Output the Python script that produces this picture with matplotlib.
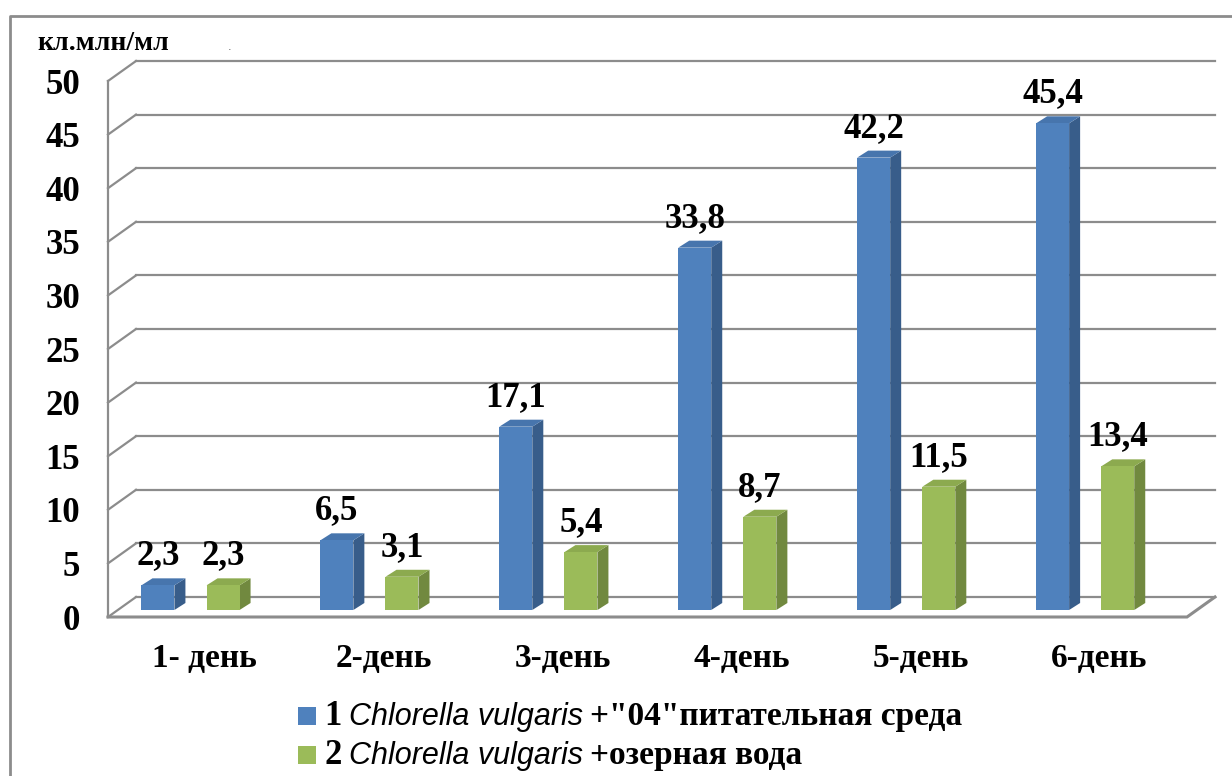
import matplotlib.pyplot as plt
from matplotlib.lines import Line2D
from matplotlib.patches import Polygon, Rectangle
from matplotlib.offsetbox import (AnchoredOffsetbox, DrawingArea, HPacker,
                                  TextArea, VPacker)

# data
days = ["1- день", "2-день", "3-день", "4-день", "5-день", "6-день"]
series_nutrient = [2.3, 6.5, 17.1, 33.8, 42.2, 45.4]
series_lake = [2.3, 3.1, 5.4, 8.7, 11.5, 13.4]
y_ticks = [0, 5, 10, 15, 20, 25, 30, 35, 40, 45, 50]
y_title = "кл.млн/мл"

BLUE = ("#4F81BD", "#385D8A", "#4775AD")   # front, side, top
GREEN = ("#9BBB59", "#71893F", "#8CAA4F")
GRID = "#8C8C8C"
SERIF = "Liberation Serif"

W, H = 1232, 776
fig = plt.figure(figsize=(W / 100, H / 100), dpi=100)

# front plane of the 3d box in pixels
left_px, right_px, bot_px, top_px = 108, 1187, 617, 81
ax = fig.add_axes([left_px / W, 1 - bot_px / H,
                   (right_px - left_px) / W, (bot_px - top_px) / H])
xmin, xmax = -0.54, 5.49
ax.set_xlim(xmin, xmax)
ax.set_ylim(0, 50)
kx = (xmax - xmin) / (right_px - left_px)   # data per pixel
ky = 50 / (bot_px - top_px)

# depth offsets
bdx, bdy = 28 * kx, 20 * ky      # back wall
ddx, ddy = 11 * kx, 7 * ky       # bar depth
b0 = 7 * ky                      # bars stand a bit into the floor
bar_w = 33 * kx

# back wall gridlines and left wall
for v in y_ticks:
    ax.plot([xmin + bdx, xmax + bdx], [v + bdy, v + bdy], color=GRID,
            lw=1.6, clip_on=False, zorder=1)
    ax.plot([xmin, xmin + bdx], [v, v + bdy], color=GRID, lw=1.6,
            clip_on=False, zorder=1)
ax.plot([xmin, xmin], [0, 50], color=GRID, lw=1.6, clip_on=False, zorder=1)
# floor
ax.plot([xmin, xmax, xmax + bdx], [0, 0, bdy], color=GRID, lw=2.2,
        clip_on=False, zorder=1, solid_joinstyle="miter")


def draw_bars(xs, vals, cols):
    for x, v in zip(xs, vals):
        xl, xr, top = x - bar_w / 2, x + bar_w / 2, b0 + v
        ax.add_patch(Polygon([(xr, b0), (xr, top), (xr + ddx, top + ddy),
                              (xr + ddx, b0 + ddy)], closed=True,
                             facecolor=cols[1], edgecolor="none",
                             clip_on=False, zorder=3))
        ax.add_patch(Polygon([(xl, top), (xr, top), (xr + ddx, top + ddy),
                              (xl + ddx, top + ddy)], closed=True,
                             facecolor=cols[2], edgecolor="none",
                             clip_on=False, zorder=3))
        ax.text(x, top + 21 * ky, f"{v:.1f}".replace(".", ","),
                ha="center", va="baseline", fontsize=25, fontweight="bold",
                family=SERIF, zorder=5)
    ax.bar(xs, vals, width=bar_w, bottom=b0, color=cols[0], zorder=4,
           clip_on=False)


idx = range(len(days))
draw_bars([i - 0.261 for i in idx], series_nutrient, BLUE)
draw_bars([i + 0.103 for i in idx], series_lake, GREEN)

ax.set_xticks(list(idx))
ax.set_xticklabels(days, fontsize=24, fontweight="bold", family=SERIF)
ax.set_yticks(y_ticks)
ax.set_yticklabels([str(t) for t in y_ticks], fontsize=25,
                   fontweight="bold", family=SERIF)
ax.tick_params(axis="x", length=0, pad=19)
ax.tick_params(axis="y", length=0, pad=20)
for s in ax.spines.values():
    s.set_visible(False)
ax.patch.set_visible(False)

fig.text(37 / W, 1 - 50 / H, y_title, fontsize=20, fontweight="bold",
         family=SERIF, ha="left", va="baseline")
fig.text(228 / W, 1 - 50 / H, ".", fontsize=8, color="#555555")

# outer frame (only left and top visible)
fig.add_artist(Line2D([10 / W, 10 / W, 1], [0, 1 - 16 / H, 1 - 16 / H],
                      transform=fig.transFigure, color="#8C8C8C", lw=2))


# legend
def legend_row(num, color, rest):
    box = DrawingArea(14, 14, 0, 0)
    box.add_artist(Rectangle((0, 0), 13, 13, facecolor=color,
                             edgecolor="none"))
    parts = [
        box,
        TextArea(num, textprops=dict(fontsize=25, fontweight="bold",
                                     family=SERIF)),
        TextArea("Chlorella vulgaris",
                 textprops=dict(fontsize=22, style="italic",
                                family="Liberation Sans")),
        TextArea(rest, textprops=dict(fontsize=24, fontweight="bold",
                                      family=SERIF)),
    ]
    return HPacker(children=parts, sep=5, align="baseline", pad=0)


rows = VPacker(children=[
    legend_row("1", BLUE[0], '+"04"питательная среда'),
    legend_row("2", GREEN[0], "+озерная вода"),
], sep=4, align="left", pad=0)
leg = AnchoredOffsetbox(loc="upper left", child=rows, pad=0, borderpad=0,
                        frameon=False, bbox_to_anchor=(298 / W, 1 - 700 / H),
                        bbox_transform=fig.transFigure)
fig.add_artist(leg)

fig.savefig("out.png", dpi=100)
